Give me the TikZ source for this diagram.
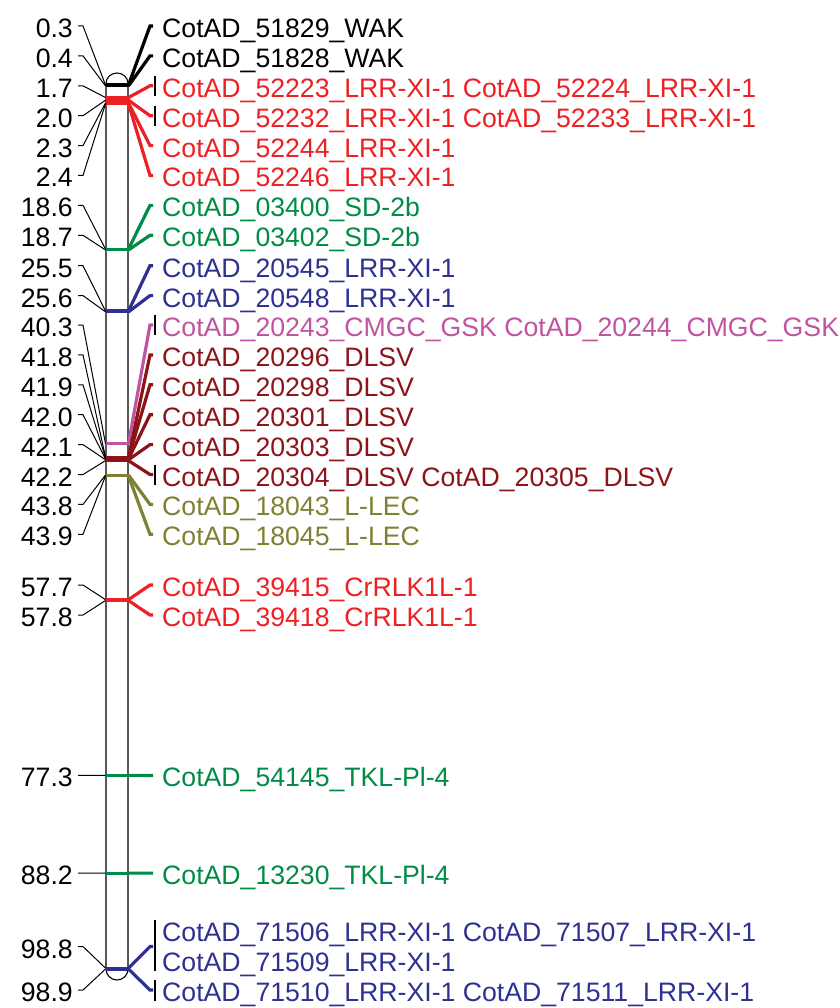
\documentclass[tikz,border=0pt]{standalone}
\usepackage{fontspec}
\setmainfont{Liberation Sans}
\definecolor{cred}{RGB}{237,32,36}
\definecolor{cgrn}{RGB}{0,140,70}
\definecolor{cnav}{RGB}{46,49,146}
\definecolor{cpnk}{RGB}{192,84,160}
\definecolor{cdrd}{RGB}{140,20,25}
\definecolor{colv}{RGB}{128,128,50}
\begin{document}
\begin{tikzpicture}[x=1pt,y=-1pt,
  lab/.style={inner sep=0pt, font=\fontsize{26.65}{30}\selectfont},
  poslab/.style={lab, anchor=base east},
  genelab/.style={lab, anchor=base west},
  mkline/.style={line width=3pt},
  lconn/.style={line width=1pt, black},
  rconn/.style={line width=3.2pt, line join=miter},
  gbar/.style={line width=1.5pt, black},
  chrom/.style={line width=1.1pt, draw=black, fill=white}]
\useasboundingbox (0,0) rectangle (839,1008);
% chromosome
\draw[chrom] (106,83.5) -- (106,969)
  .. controls (106,975.08) and (110.92,980) .. (117,980)
  .. controls (123.08,980) and (128,975.08) .. (128,969)
  -- (128,83.5)
  .. controls (128,77.7) and (123.08,73) .. (117,73)
  .. controls (110.92,73) and (106,77.7) .. (106,83.5) -- cycle;
% markers, position labels and connectors
\foreach \ii/\pp/\ty/\cc in {
  0/0.3/26/black, 1/0.4/55.9/black,
  2/1.7/85.8/cred, 3/2.0/115.7/cred, 4/2.3/145.6/cred, 5/2.4/175.5/cred,
  6/18.6/205.4/cgrn, 7/18.7/235.3/cgrn,
  8/25.5/265.7/cnav, 9/25.6/295.6/cnav,
  10/40.3/325/cpnk,
  11/41.8/354.9/cdrd, 12/41.9/384.8/cdrd, 13/42.0/414.7/cdrd, 14/42.1/444.6/cdrd, 15/42.2/474.5/cdrd,
  16/43.8/504.4/colv, 17/43.9/534.3/colv,
  18/57.7/585/cred, 19/57.8/615/cred,
  20/77.3/775.4/cgrn, 21/88.2/873.1/cgrn,
  22/98.8/946.5/cnav, 23/98.9/990/cnav}{
  \coordinate (ml\ii) at (105.5,{82.3+8.966*\pp});
  \coordinate (mr\ii) at (128.5,{82.3+8.966*\pp});
  \coordinate (tl\ii) at (83,\ty);
  \coordinate (tle\ii) at (78,\ty);
  \coordinate (tr\ii) at (150,\ty);
  \coordinate (tre\ii) at (153,\ty);
  \node[poslab] (p\ii) at (73,\ty+11.5) {\pp};
  \draw[mkline, \cc] (ml\ii) -- (mr\ii);
  \draw[lconn] (ml\ii) -- (tl\ii) -- (tle\ii);
  \draw[rconn, \cc] (mr\ii) -- (tr\ii) -- (tre\ii);
}
% gene labels
\foreach \ii/\ty/\cc/\txt in {
  0/26/black/CotAD\_51829\_WAK,
  1/55.9/black/CotAD\_51828\_WAK,
  2/85.8/cred/CotAD\_52223\_LRR-XI-1 CotAD\_52224\_LRR-XI-1,
  3/115.7/cred/CotAD\_52232\_LRR-XI-1 CotAD\_52233\_LRR-XI-1,
  4/145.6/cred/CotAD\_52244\_LRR-XI-1,
  5/175.5/cred/CotAD\_52246\_LRR-XI-1,
  6/205.4/cgrn/CotAD\_03400\_SD-2b,
  7/235.3/cgrn/CotAD\_03402\_SD-2b,
  8/265.7/cnav/CotAD\_20545\_LRR-XI-1,
  9/295.6/cnav/CotAD\_20548\_LRR-XI-1,
  10/325/cpnk/CotAD\_20243\_CMGC\_GSK CotAD\_20244\_CMGC\_GSK,
  11/354.9/cdrd/CotAD\_20296\_DLSV,
  12/384.8/cdrd/CotAD\_20298\_DLSV,
  13/414.7/cdrd/CotAD\_20301\_DLSV,
  14/444.6/cdrd/CotAD\_20303\_DLSV,
  15/474.5/cdrd/CotAD\_20304\_DLSV CotAD\_20305\_DLSV,
  16/504.4/colv/CotAD\_18043\_L-LEC,
  17/534.3/colv/CotAD\_18045\_L-LEC,
  18/585/cred/CotAD\_39415\_CrRLK1L-1,
  19/615/cred/CotAD\_39418\_CrRLK1L-1,
  20/775.4/cgrn/CotAD\_54145\_TKL-Pl-4,
  21/873.1/cgrn/CotAD\_13230\_TKL-Pl-4,
  23/990/cnav/CotAD\_71510\_LRR-XI-1 CotAD\_71511\_LRR-XI-1}{
  \node[genelab, text=\cc] (g\ii) at (162,\ty+11.5) {\txt};
}
\node[genelab, text=cnav] (g22a) at (162,941.8) {CotAD\_71506\_LRR-XI-1 CotAD\_71507\_LRR-XI-1};
\node[genelab, text=cnav] (g22b) at (162,971.8) {CotAD\_71509\_LRR-XI-1};
% group bars
\foreach \ii/\ya/\yb in {2/-10/10, 3/-10/10, 10/-10/10, 15/-10/10, 22/-26.5/24.5, 23/-10/11}{
  \path ([yshift=-\ya pt]tre\ii) ++(2,0) coordinate (ba\ii)
     ([yshift=-\yb pt]tre\ii) ++(2,0) coordinate (bb\ii);
  \draw[gbar] (ba\ii) -- (bb\ii);
}
\end{tikzpicture}
\end{document}
